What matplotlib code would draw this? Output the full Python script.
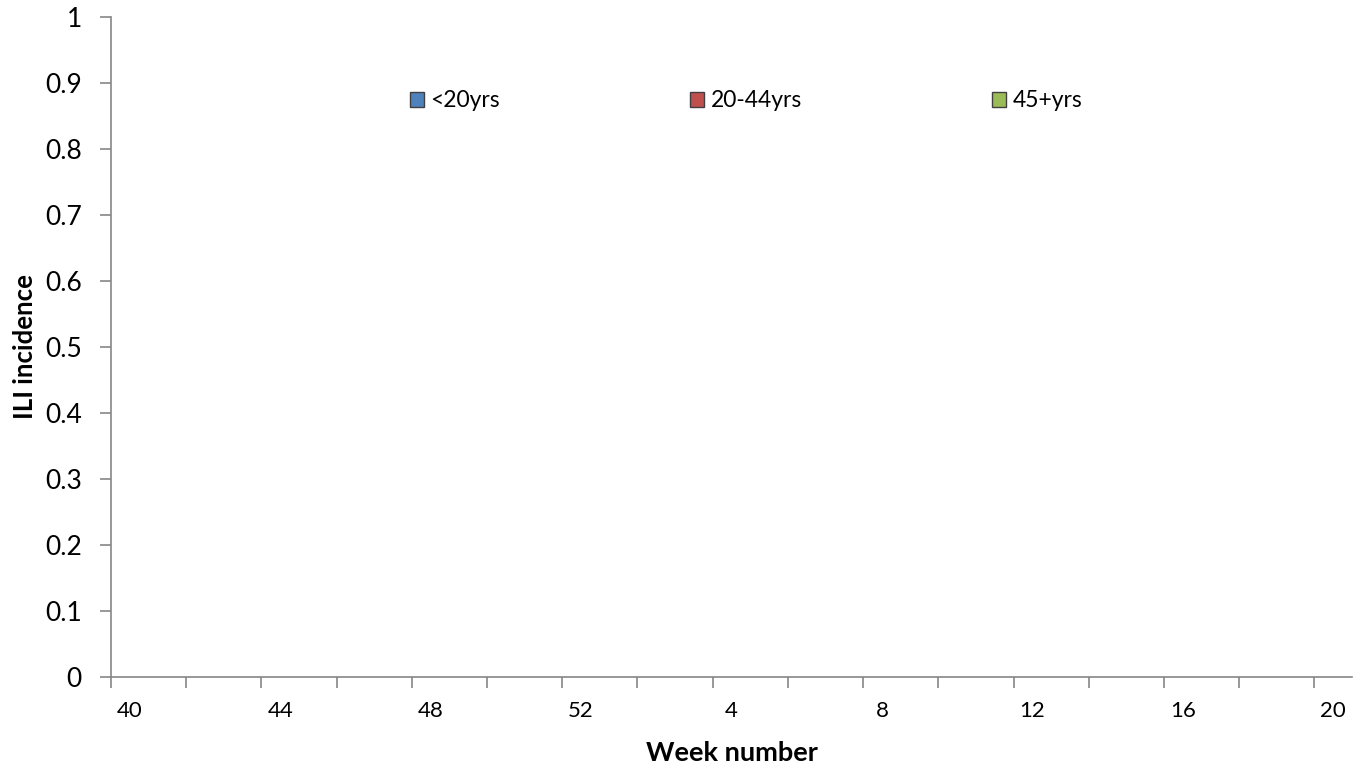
import numpy as np
import matplotlib
matplotlib.use("Agg")
import matplotlib.pyplot as plt

# weeks 40..52 then 1..20 (season)
weeks = list(range(40, 53)) + list(range(1, 21))
series_names = ["<20yrs", "20-44yrs", "45+yrs"]
series_colors = ["#4F81BD", "#C0504D", "#9BBB59"]
# no values reported in the chart
under20 = [np.nan] * len(weeks)
age20_44 = [np.nan] * len(weeks)
age45 = [np.nan] * len(weeks)
y_ticks = [0, 0.1, 0.2, 0.3, 0.4, 0.5, 0.6, 0.7, 0.8, 0.9, 1]
y_tick_labels = ["0", "0.1", "0.2", "0.3", "0.4", "0.5", "0.6", "0.7", "0.8", "0.9", "1"]

plt.rcParams['font.family'] = ['Lato', 'DejaVu Sans']

fig = plt.figure(figsize=(13.56, 7.67), dpi=100)
ax = fig.add_axes([111 / 1356, 1 - 677 / 767, (1352 - 111) / 1356, (677 - 17) / 767])

x = np.arange(len(weeks))
w = 0.25
for i, (vals, name, col) in enumerate(zip([under20, age20_44, age45], series_names, series_colors)):
    ax.bar(x + (i - 1) * w, vals, width=w, color=col, edgecolor="#404040", linewidth=1, label=name)

ax.set_xlim(-0.5, len(weeks) - 0.5)
ax.set_ylim(0, 1)
ax.set_yticks(y_ticks)
ax.set_yticklabels(y_tick_labels, fontsize=19)

# ticks at category boundaries every 2 weeks, labels every 4 weeks
ax.set_xticks(np.arange(-0.5, len(weeks), 2))
ax.set_xticklabels([])
ax.set_xticks(x[::4], minor=True)
ax.set_xticklabels([str(wk) for wk in weeks[::4]], minor=True, fontsize=16)
ax.tick_params(axis="x", which="major", direction="out", length=8, color="#868686", width=1.2)
ax.tick_params(axis="x", which="minor", length=0, pad=17)
ax.tick_params(axis="y", direction="out", length=8, color="#868686", width=1.2, pad=13)

for s in ["top", "right"]:
    ax.spines[s].set_visible(False)
for s in ["left", "bottom"]:
    ax.spines[s].set_color("#868686")
    ax.spines[s].set_linewidth(1.2)

ax.set_ylabel("ILI incidence", fontsize=18.5, fontweight="bold", labelpad=6)
ax.set_xlabel("Week number", fontsize=19.5, fontweight="bold", labelpad=15)

ax.legend(loc="center", bbox_to_anchor=(0.512, 0.873), ncol=3, frameon=False, fontsize=16.5,
          handlelength=0.6, handleheight=0.6, handletextpad=0.3, columnspacing=8.3)

fig.savefig("out.png", dpi=100)
